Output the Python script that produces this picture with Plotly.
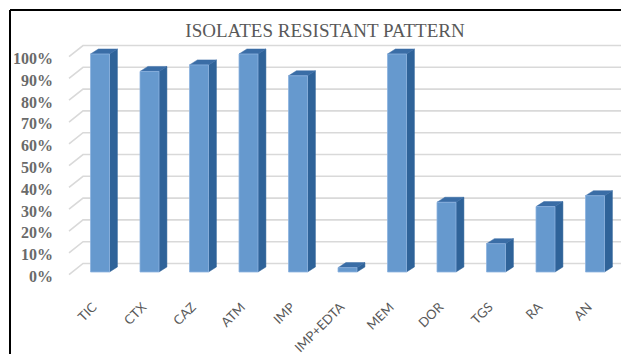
import numpy as np
import plotly.graph_objects as go

# Antibiotic agents and percentage of resistant isolates
agents = ["TIC", "CTX", "CAZ", "ATM", "IMP", "IMP+EDTA", "MEM", "DOR", "TGS", "RA", "AN"]
resistant_pct = [100, 92, 95, 100, 90, 2, 100, 32, 13, 30, 35]
grid_values = [0, 10, 20, 30, 40, 50, 60, 70, 80, 90, 100]
grid_labels = [f"{v}%" for v in grid_values]

W, H = 621, 354
ML, MR, MT, MB = 56, 0, 36, 64

# Pseudo-3D geometry in data units
bar_w = 0.384          # front face width
depth_x = 0.16         # side/top depth (horizontal)
depth_y = 2.3          # side/top depth (vertical)
wall_dx0, wall_dx1 = -0.626, -0.343   # floor stub start/end
wall_dy0, wall_dy1 = -1.2, 3.9        # vertical shift of stub start / back wall
label_shift = -2.0

x_range = [(ML - 100) / 49.5, (W - MR - 100) / 49.5]
y_range = [-8.26, 108.26]

FRONT = "#6699CE"
SIDE = "#2F6399"
TOP = "#3A6DA6"
GRID = "#D9D9D9"

pos = np.arange(len(agents), dtype=float)

fig = go.Figure()

# Back-wall gridlines with diagonal floor stubs
gx, gy = [], []
for v in grid_values:
    gx += [wall_dx0, wall_dx1, x_range[1], None]
    gy += [v + wall_dy0, v + wall_dy1, v + wall_dy1, None]
fig.add_trace(go.Scatter(x=gx, y=gy, mode="lines",
                         line=dict(color=GRID, width=1.6),
                         hoverinfo="skip", showlegend=False))

# Side faces, top faces and front faces of the bars
sx, sy, tx, ty, fx, fy = [], [], [], [], [], []
for xc, v in zip(pos, resistant_pct):
    l, r = xc - bar_w / 2, xc + bar_w / 2
    sx += [r, r + depth_x, r + depth_x, r, r, None]
    sy += [0, depth_y, v + depth_y, v, 0, None]
    tx += [l, l + depth_x, r + depth_x, r, l, None]
    ty += [v, v + depth_y, v + depth_y, v, v, None]
    fx += [l, r, r, l, l, None]
    fy += [0, 0, v, v, 0, None]

fig.add_trace(go.Scatter(x=sx, y=sy, mode="lines", fill="toself",
                         fillcolor=SIDE, line=dict(color=SIDE, width=0.5),
                         hoverinfo="skip", showlegend=False))
fig.add_trace(go.Scatter(x=tx, y=ty, mode="lines", fill="toself",
                         fillcolor=TOP, line=dict(color=TOP, width=0.5),
                         hoverinfo="skip", showlegend=False))
fig.add_trace(go.Scatter(x=fx, y=fy, mode="lines", fill="toself",
                         fillcolor=FRONT, line=dict(color="#8DB3E0", width=0.8),
                         hoverinfo="skip", showlegend=False))

fig.update_layout(
    width=W, height=H,
    margin=dict(l=ML, r=MR, t=MT, b=MB),
    paper_bgcolor="white", plot_bgcolor="white",
    showlegend=False,
    title=dict(text="ISOLATES RESISTANT PATTERN",
               x=325 / W, xref="container", xanchor="center",
               y=1 - 30 / H, yref="container", yanchor="middle",
               font=dict(family="Liberation Serif", size=19, color="#595959")),
    xaxis=dict(range=x_range, showgrid=False, zeroline=False, showline=False,
               tickmode="array", tickvals=list(pos - 0.14), ticktext=agents,
               tickangle=-45, ticks="", ticklabelstandoff=6,
               tickfont=dict(family="Lato", size=13, color="#595959")),
    yaxis=dict(range=y_range, showgrid=False, zeroline=False, showline=False,
               tickmode="array", tickvals=[v + label_shift for v in grid_values],
               ticktext=grid_labels, ticks="", ticklabelstandoff=2,
               tickfont=dict(family="Liberation Serif", size=16, color="#6A6A6A",
                             weight="bold")),
)

# Frame lines along the top and left edges of the chart
px0 = (10 - ML) / (W - ML - MR)
py_top = (H - MB - 10) / (H - MT - MB)
py_bot = (H - MB - H) / (H - MT - MB)
fig.add_shape(type="line", xref="paper", yref="paper",
              x0=px0, x1=1.02, y0=py_top, y1=py_top,
              line=dict(color="black", width=2))
fig.add_shape(type="line", xref="paper", yref="paper",
              x0=px0, x1=px0, y0=py_top, y1=py_bot,
              line=dict(color="black", width=2))

fig.write_html("out.html")
